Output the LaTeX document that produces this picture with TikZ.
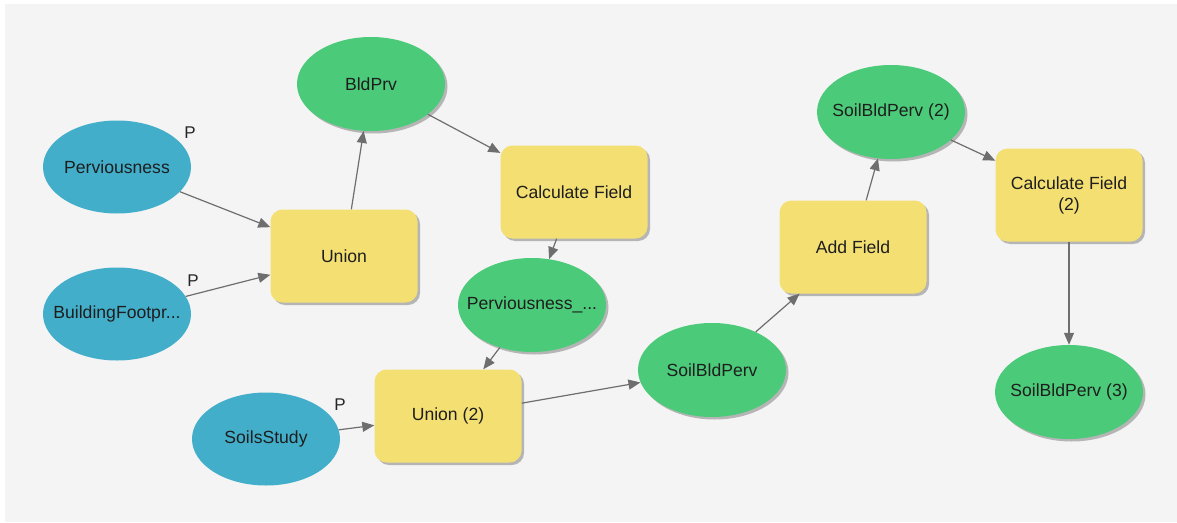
\documentclass[tikz,border=0pt]{standalone}
\usepackage{fontspec}
\setmainfont{Liberation Sans}
\usetikzlibrary{shapes.geometric,arrows.meta,shadows}

\definecolor{canvas}{HTML}{F4F4F4}
\definecolor{datablue}{HTML}{42AECA}
\definecolor{datagreen}{HTML}{4BCB79}
\definecolor{toolyellow}{HTML}{F4DF72}
\definecolor{linkgray}{HTML}{6E6E6E}
\definecolor{labelink}{HTML}{1E1E1E}

% zero-width label so the ellipse keeps its fixed size
\newcommand{\fixedlabel}[1]{\makebox[0pt][c]{#1}}

\tikzset{
  x=1pt, y=-1pt,
  every node/.style={font=\fontsize{17.6}{21}\selectfont, text=labelink, align=center},
  softshadow/.style={drop shadow={shadow xshift=2.5pt, shadow yshift=-2.5pt, fill=black!35, opacity=0.8}},
  inputdata/.style={ellipse, fill=datablue, inner sep=0pt,
    minimum width=148pt, minimum height=93pt},
  outputdata/.style={ellipse, fill=datagreen, inner sep=0pt, softshadow,
    minimum width=148pt, minimum height=94pt},
  toolbox/.style={rectangle, rounded corners=12pt, fill=toolyellow, inner sep=0pt, softshadow,
    minimum width=147pt, minimum height=93pt},
  paramtag/.style={font=\fontsize{17}{20}\selectfont, text=black!85},
  link/.style={draw=linkgray, line width=1.2pt, -{Triangle[length=12pt,width=10pt]}},
}

\begin{document}
\begin{tikzpicture}
\useasboundingbox (0,0) rectangle (1177,522);
\fill[white] (0,0) rectangle (1177,522);
\fill[canvas] (5,4) rectangle (1177,522);

% input datasets
\node[inputdata] (perv) at (117,167) {\fixedlabel{Perviousness}};
\node[inputdata] (bldg) at (117,314) {\fixedlabel{BuildingFootpr...}};
\node[inputdata] (soils) at (266,439) {\fixedlabel{SoilsStudy}};

% parameter markers
\node[paramtag] (pperv) at (190,133) {P};
\node[paramtag] (pbldg) at (193,281) {P};
\node[paramtag] (psoils) at (340,405) {P};

% tools
\node[toolbox] (union) at (344,256) {Union};
\node[toolbox] (calc) at (574,192) {Calculate Field};
\node[toolbox] (union2) at (448,416) {Union (2)};
\node[toolbox] (addf) at (853,247) {Add Field};
\node[toolbox] (calc2) at (1069,195) {Calculate Field\\(2)};

% derived datasets
\node[outputdata] (bldprv) at (371,84) {\fixedlabel{BldPrv}};
\node[outputdata] (pervout) at (532,305) {\fixedlabel{Perviousness\_...}};
\node[outputdata] (sbp) at (712,370) {\fixedlabel{SoilBldPerv}};
\node[outputdata] (sbp2) at (891,112) {\fixedlabel{SoilBldPerv (2)}};
\node[outputdata] (sbp3) at (1069,392) {\fixedlabel{SoilBldPerv (3)}};

% process flow
\draw[link] (perv) -- (union);
\draw[link] (bldg) -- (union);
\draw[link] (union) -- (bldprv);
\draw[link] (bldprv) -- (calc);
\draw[link] (calc) -- (pervout);
\draw[link] (pervout) -- (union2);
\draw[link] (soils) -- (union2);
\draw[link] (union2) -- (sbp);
\draw[link] (sbp) -- (addf);
\draw[link] (addf) -- (sbp2);
\draw[link] (sbp2) -- (calc2);
\draw[link] (calc2) -- (sbp3);
\end{tikzpicture}
\end{document}
